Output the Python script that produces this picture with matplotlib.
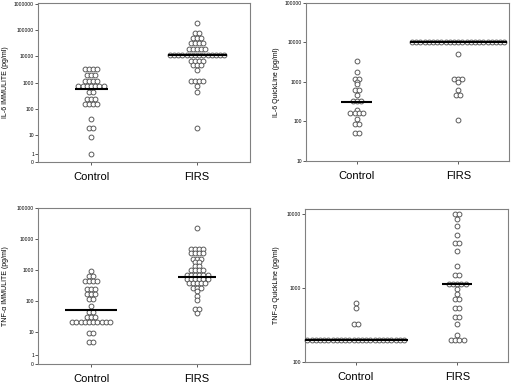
import numpy as np
import matplotlib
matplotlib.use('Agg')
import matplotlib.pyplot as plt
from matplotlib.ticker import FixedLocator, FixedFormatter, NullLocator

plt.rcParams['font.family'] = ['Liberation Sans', 'DejaVu Sans']

categories = ['Control', 'FIRS']

# ---- Panel 1: IL-6 IMMULITE (pg/ml) ----
il6_imm_control_values = [3300, 2000, 1200, 750, 430, 250, 160, 42, 18, 8, 1]
il6_imm_control_counts = [4, 3, 4, 7, 2, 3, 4, 1, 2, 1, 1]
il6_imm_firs_values = [190000, 80000, 49000, 31000, 19000, 11500, 6800, 4800, 3150, 1200, 750, 430, 18]
il6_imm_firs_counts = [1, 2, 3, 4, 5, 14, 4, 3, 1, 4, 1, 1, 1]
il6_imm_medians = [600, 11500]
il6_imm_ticks = [0, 1, 10, 100, 1000, 10000, 100000, 1000000]

# ---- Panel 2: IL-6 QuickLine (pg/ml) ----
il6_ql_control_values = [3500, 1750, 1200, 1000, 890, 640, 460, 340, 200, 165, 117, 84, 50]
il6_ql_control_counts = [1, 1, 2, 1, 1, 2, 1, 3, 1, 4, 1, 2, 2]
il6_ql_firs_values = [10000, 5000, 1200, 1000, 620, 480, 112]
il6_ql_firs_counts = [23, 1, 3, 1, 1, 2, 1]
il6_ql_medians = [310, 10000]
il6_ql_ticks = [10, 100, 1000, 10000, 100000]

# ---- Panel 3: TNF-alpha IMMULITE (pg/ml) ----
tnf_imm_control_values = [950, 650, 450, 250, 170, 120, 72, 46, 32, 22, 9, 4]
tnf_imm_control_counts = [1, 2, 4, 3, 3, 2, 1, 2, 3, 10, 2, 2]
tnf_imm_firs_values = [23000, 5000, 3500, 2400, 1800, 1350, 1000, 710, 525, 380, 275, 210, 148, 110, 55, 42]
tnf_imm_firs_counts = [1, 4, 4, 3, 2, 2, 4, 6, 6, 5, 3, 1, 1, 1, 2, 1]
tnf_imm_medians = [52, 600]
tnf_imm_ticks = [0, 1, 10, 100, 1000, 10000, 100000]

# ---- Panel 4: TNF-alpha QuickLine (pg/ml) ----
tnf_ql_control_values = [620, 540, 330, 200]
tnf_ql_control_counts = [1, 1, 2, 24]
tnf_ql_firs_values = [10000, 8600, 7000, 5200, 4000, 3200, 2000, 1480, 1140, 960, 830, 700, 540, 410, 330, 235, 200]
tnf_ql_firs_counts = [2, 1, 1, 1, 2, 1, 1, 2, 5, 1, 1, 2, 2, 2, 1, 1, 4]
tnf_ql_medians = [200, 1140]
tnf_ql_ticks = [100, 1000, 10000]

# ---------------- styles / layout ----------------
W, H = 517, 386
panels = [
    dict(rect=(38, 3, 250, 162), ylabel='IL-6 IMMULITE (pg/ml)', scale='log1p', ylim=(0, 1.05e6),
         ticks=il6_imm_ticks,
         groups=[(il6_imm_control_values, il6_imm_control_counts), (il6_imm_firs_values, il6_imm_firs_counts)],
         medians=il6_imm_medians, med_half_px=[16.5, 29.5], labx=-0.135),
    dict(rect=(306, 3, 509, 161), ylabel='IL-6 QuickLine (pg/ml)', scale='log', ylim=(10, 1e5),
         ticks=il6_ql_ticks,
         groups=[(il6_ql_control_values, il6_ql_control_counts), (il6_ql_firs_values, il6_ql_firs_counts)],
         medians=il6_ql_medians, med_half_px=[15.5, 48.5], labx=-0.13),
    dict(rect=(38, 208, 250, 364), ylabel='TNF-α IMMULITE (pg/ml)', scale='log1p', ylim=(0, 1.0e5),
         ticks=tnf_imm_ticks,
         groups=[(tnf_imm_control_values, tnf_imm_control_counts), (tnf_imm_firs_values, tnf_imm_firs_counts)],
         medians=tnf_imm_medians, med_half_px=[26, 19], labx=-0.135),
    dict(rect=(305, 209, 508, 362), ylabel='TNF-α QuickLine (pg/ml)', scale='log', ylim=(100, 11700),
         ticks=tnf_ql_ticks,
         groups=[(tnf_ql_control_values, tnf_ql_control_counts), (tnf_ql_firs_values, tnf_ql_firs_counts)],
         medians=tnf_ql_medians, med_half_px=[52, 15], labx=-0.125),
]

DOT_SPACING_PX = 4.2
DOT_SIZE_PT = 3.5
SPINE_COLOR = '#808080'


def fwd(x):
    x = np.asarray(x, dtype=float)
    return np.log10(np.clip(x, 0, None) + 1.0)


def inv(y):
    return 10.0 ** np.asarray(y, dtype=float) - 1.0


fig = plt.figure(figsize=(W / 100, H / 100), dpi=100)
fig.patch.set_facecolor('white')

for p in panels:
    l, t, r, b = p['rect']
    ax = fig.add_axes([l / W, 1 - b / H, (r - l) / W, (b - t) / H])
    if p['scale'] == 'log':
        ax.set_yscale('log')
    else:
        ax.set_yscale('function', functions=(fwd, inv))
    ax.set_xlim(0.5, 2.5)
    ax.set_ylim(*p['ylim'])
    px_per_unit = (r - l) / 2.0
    dx = DOT_SPACING_PX / px_per_unit

    for gi, (vals, cnts) in enumerate(p['groups']):
        center = gi + 1
        xs, ys = [], []
        for v, n in zip(vals, cnts):
            offs = (np.arange(n) - (n - 1) / 2.0) * dx
            xs.extend(center + offs)
            ys.extend([v] * n)
        ax.scatter(xs, ys, s=DOT_SIZE_PT ** 2, facecolors='white', edgecolors='#505050',
                   linewidths=0.65, zorder=3, clip_on=False)
        hw = p['med_half_px'][gi] / px_per_unit
        ax.plot([center - hw, center + hw], [p['medians'][gi]] * 2, color='black', lw=1.5,
                zorder=4, solid_capstyle='butt')

    ax.yaxis.set_major_locator(FixedLocator(p['ticks']))
    ax.yaxis.set_major_formatter(FixedFormatter([str(v) for v in p['ticks']]))
    ax.yaxis.set_minor_locator(NullLocator())
    ax.set_xticks([1, 2])
    ax.set_xticklabels(categories, fontsize=8)
    ax.tick_params(axis='y', direction='out', length=2, width=0.6, labelsize=3.6, pad=0.8,
                   color='#404040')
    ax.tick_params(axis='x', direction='out', length=2.5, width=0.6, pad=5, color='#404040')
    for s in ax.spines.values():
        s.set_color(SPINE_COLOR)
        s.set_linewidth(0.8)
    ax.set_ylabel(p['ylabel'], fontsize=5)
    ax.yaxis.set_label_coords(p['labx'], 0.5)

fig.savefig('out.png', dpi=100, facecolor='white')
